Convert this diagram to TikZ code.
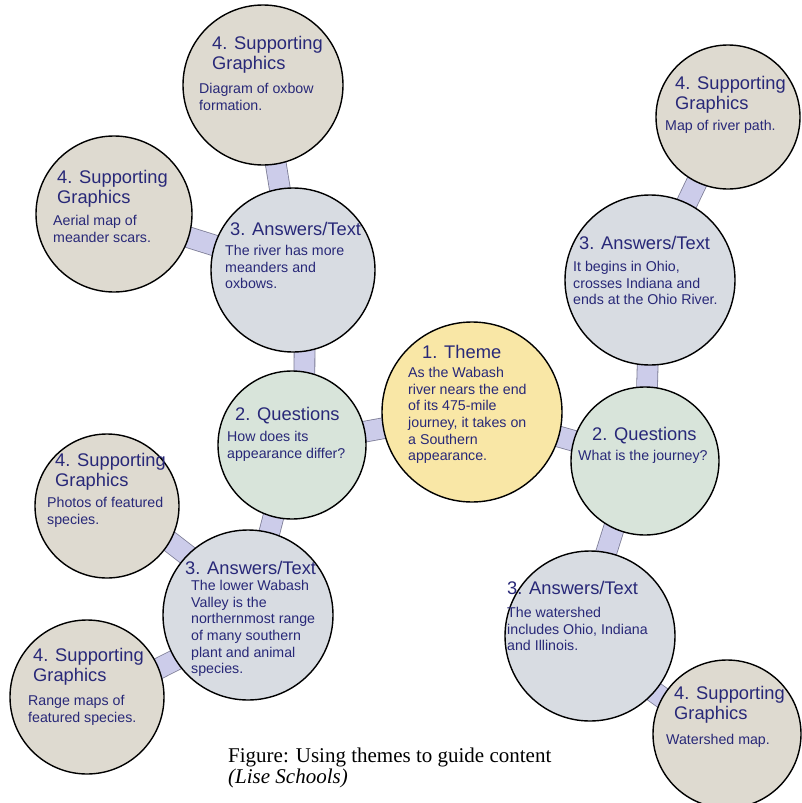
\documentclass[tikz,border=0pt]{standalone}
\usepackage{fontspec}
\setmainfont{Liberation Sans}
\newfontfamily\capfont{Liberation Serif}
\usetikzlibrary{backgrounds,calc}
\definecolor{themefill}{RGB}{249,231,166}
\definecolor{qfill}{RGB}{216,228,218}
\definecolor{afill}{RGB}{216,220,226}
\definecolor{sfill}{RGB}{222,218,208}
\definecolor{barfill}{RGB}{204,204,234}
\definecolor{bardraw}{RGB}{125,125,150}
\definecolor{navy}{RGB}{40,40,120}
\begin{document}
\begin{tikzpicture}[x=1pt,y=-1pt,
  bubble/.style={circle, draw=black, line width=1.4pt, inner sep=0pt, minimum size=#1},
  suppc/.style={bubble=#1, fill=sfill},
  ansc/.style={bubble=#1, fill=afill},
  quesc/.style={bubble=#1, fill=qfill},
  themec/.style={bubble=#1, fill=themefill},
  ttl/.style={anchor=north west, inner sep=0pt, align=left, text=navy,
    font=\fontsize{18.3}{20}\selectfont},
  bodytxt/.style={anchor=north west, inner sep=0pt, align=left, text=navy,
    font=\fontsize{14.2}{16.7}\selectfont},
  bar/.style={draw=bardraw, line width=0.8pt, double=barfill, double distance=20pt},
  captxt/.style={anchor=base west, inner sep=0pt, text=black,
    font=\capfont\fontsize{21}{22}\selectfont}
]
\useasboundingbox (0,0) rectangle (801,803);

% circles
\node[suppc=160pt] (ox) at (263,85) {};
\node[suppc=156pt] (mea) at (114,214) {};
\node[ansc=164pt] (tla) at (293,270) {};
\node[themec=180pt] (th) at (472,412) {};
\node[quesc=148pt] (ql) at (292,445) {};
\node[quesc=148pt] (qr) at (645,461) {};
\node[ansc=170pt] (ra) at (650,280) {};
\node[suppc=144pt] (rs) at (728,117) {};
\node[suppc=144pt] (ph) at (107,506) {};
\node[ansc=170pt] (bla) at (248,615) {};
\node[suppc=154pt] (rg) at (87,697) {};
\node[ansc=170pt] (bra) at (590,636) {};
\node[suppc=148pt] (ws) at (727,734) {};

% background and connectors
\begin{pgfonlayer}{background}
\fill[white] (0,0) rectangle (801,803);
\draw[bar] (ox.center) -- (tla.center);
\draw[bar] (mea.center) -- (tla.center);
\draw[bar] ($(tla.center)+(12,0)$) -- ($(ql.center)+(12,0)$);
\draw[bar] (ql.center) -- (th.center);
\draw[bar] (ql.center) -- (bla.center);
\draw[bar] ($(bla.center)+(0,-13)$) -- ($(ph.center)+(0,-13)$);
\draw[bar] ($(bla.center)+(0,8)$) -- ($(rg.center)+(0,8)$);
\draw[bar] (th.center) -- (qr.center);
\draw[bar] (qr.center) -- (ra.center);
\draw[bar] (ra.center) -- (rs.center);
\draw[bar] ($(qr.center)+(-10,0)$) -- ($(bra.center)+(-10,0)$);
\draw[bar] ($(bra.center)+(0,10)$) -- ($(ws.center)+(0,10)$);
\end{pgfonlayer}

% texts
\node[ttl] (oxt) at (212,36) {4. Supporting\\ Graphics};
\node[bodytxt] (oxb) at (199,83) {Diagram of oxbow\\formation.};

\node[ttl] (meat) at (57,170) {4. Supporting\\ Graphics};
\node[bodytxt] (meab) at (53,215) {Aerial map of\\meander scars.};

\node[ttl] (tlat) at (230,222) {3. Answers/Text};
\node[bodytxt] (tlab) at (225,245) {The river has more\\meanders and\\oxbows.};

\node[ttl] (tht) at (422,345) {1. Theme};
\node[bodytxt] (thb) at (408,367) {As the Wabash\\river nears the end\\of its 475-mile\\journey, it takes on\\a Southern\\appearance.};

\node[ttl] (qlt) at (235,407) {2. Questions};
\node[bodytxt] (qlb) at (227,431) {How does its\\appearance differ?};

\node[ttl] (qrt) at (592,427) {2. Questions};
\node[bodytxt] (qrb) at (578,450) {What is the journey?};

\node[ttl] (rat) at (579,236) {3. Answers/Text};
\node[bodytxt] (rab) at (573,261) {It begins in Ohio,\\crosses Indiana and\\ends at the Ohio River.};

\node[ttl] (rst) at (675,76) {4. Supporting\\Graphics};
\node[bodytxt] (rsb) at (665,120) {Map of river path.};

\node[ttl] (pht) at (55,453) {4. Supporting\\ Graphics};
\node[bodytxt] (phb) at (47,497) {Photos of featured\\species.};

\node[ttl] (blat) at (185,561) {3. Answers/Text};
\node[bodytxt] (blab) at (191,580) {The lower Wabash\\Valley is the\\northernmost range\\of many southern\\plant and animal\\species.};

\node[ttl] (rgt) at (33,648) {4. Supporting\\ Graphics};
\node[bodytxt] (rgb) at (28,695) {Range maps of\\featured species.};

\node[ttl] (brat) at (507,581) {3. Answers/Text};
\node[bodytxt] (brab) at (507,607) {The watershed\\includes Ohio, Indiana\\and Illinois.};

\node[ttl] (wst) at (674,686) {4. Supporting\\ Graphics};
\node[bodytxt] (wsb) at (666,734) {Watershed map.};

% caption
\node[captxt] (c1) at (228,762) {Figure: Using themes to guide content};
\node[captxt] (c2) at (228,783) {\itshape (Lise Schools)};
\end{tikzpicture}
\end{document}
